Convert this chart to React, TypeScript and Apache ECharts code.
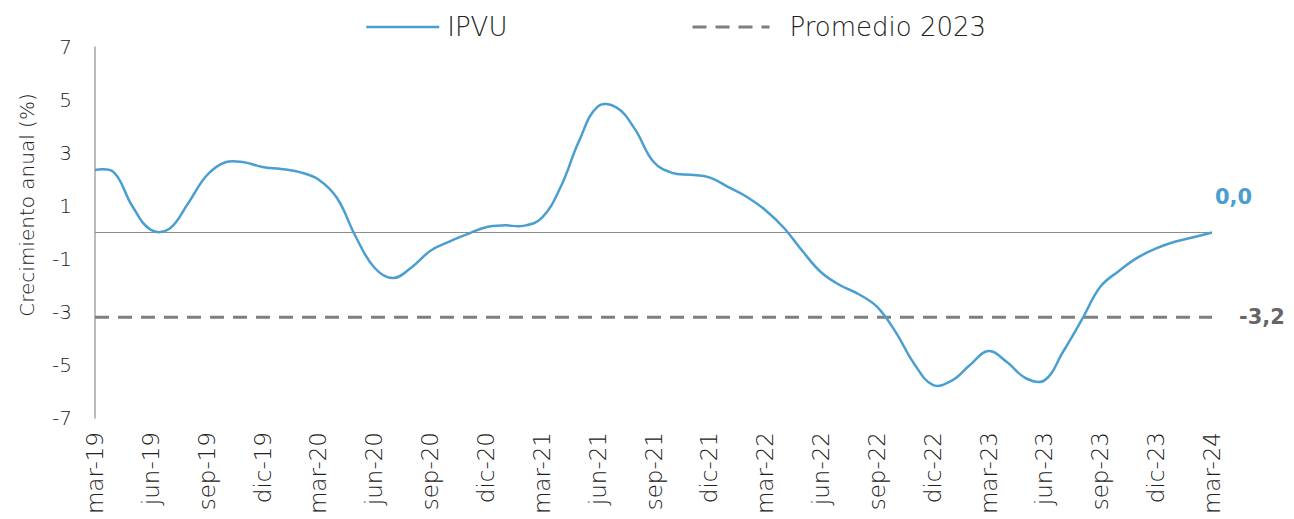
import React, { useEffect, useRef } from "react";
import * as echarts from "echarts";

const categories = [
  "mar-19","abr-19","may-19","jun-19","jul-19","ago-19","sep-19","oct-19","nov-19","dic-19","ene-20","feb-20",
  "mar-20","abr-20","may-20","jun-20","jul-20","ago-20","sep-20","oct-20","nov-20","dic-20","ene-21","feb-21",
  "mar-21","abr-21","may-21","jun-21","jul-21","ago-21","sep-21","oct-21","nov-21","dic-21","ene-22","feb-22",
  "mar-22","abr-22","may-22","jun-22","jul-22","ago-22","sep-22","oct-22","nov-22","dic-22","ene-23","feb-23",
  "mar-23","abr-23","may-23","jun-23","jul-23","ago-23","sep-23","oct-23","nov-23","dic-23","ene-24","feb-24",
  "mar-24",
];

const ipvu = [
  2.36, 2.28, 1.0, 0.1, 0.14, 1.1, 2.15, 2.65, 2.65, 2.47, 2.4, 2.28,
  2.0, 1.3, -0.15, -1.32, -1.72, -1.32, -0.7, -0.35, -0.06, 0.2, 0.27, 0.25,
  0.55, 1.7, 3.45, 4.75, 4.72, 3.9, 2.67, 2.25, 2.18, 2.08, 1.72, 1.35,
  0.85, 0.18, -0.7, -1.5, -1.98, -2.32, -2.8, -3.75, -4.95, -5.75, -5.6, -5.0,
  -4.47, -4.9, -5.5, -5.58, -4.5, -3.3, -2.05, -1.45, -0.95, -0.6, -0.35, -0.18,
  0.0,
];

const promedio2023Value = -3.2;
const promedio2023 = categories.map(() => promedio2023Value);

const yMin = -7;
const yMax = 7;

const FONT = "'DejaVu Sans', 'Liberation Sans', Arial, sans-serif";
const W = 300;
const TEXT = "#222222";
const BLUE = "#4a9fd0";
const GRAY = "#7f7f7f";

const fmt = (v: number) => v.toFixed(1).replace(".", ",");

export default function App() {
  const ref = useRef<HTMLDivElement>(null);
  useEffect(() => {
    if (!ref.current) return;
    const chart = echarts.init(ref.current, undefined, { renderer: "svg" });
    chart.setOption({
      animation: false,
      textStyle: { fontFamily: FONT },
      grid: { left: 95, right: 82, top: 47, bottom: 101, containLabel: false },
      legend: [
        {
          data: ["IPVU"],
          left: 360,
          top: 9,
          itemWidth: 73,
          itemHeight: 26,
          lineStyle: { width: 2.5, opacity: 1, color: BLUE },
          itemStyle: { opacity: 0 },
          textStyle: { fontSize: 26, color: TEXT, fontFamily: FONT, fontWeight: W, padding: [0, 0, 0, 3] },
          selectedMode: false,
        },
        {
          data: ["Promedio 2023"],
          left: 686,
          top: 9,
          itemWidth: 77,
          itemHeight: 26,
          lineStyle: { width: 3, opacity: 1 },
          itemStyle: { opacity: 0 },
          textStyle: { fontSize: 26, color: TEXT, fontFamily: FONT, fontWeight: W, padding: [0, 0, 0, 15] },
          selectedMode: false,
        },
      ],
      graphic: [
        {
          type: "text",
          x: 27,
          y: 205,
          rotation: Math.PI / 2,
          style: {
            text: "Crecimiento anual (%)",
            fontSize: 20,
            fontFamily: FONT,
            fontWeight: W,
            fill: TEXT,
            align: "center",
            verticalAlign: "middle",
          },
        },
      ],
      xAxis: {
        type: "category",
        data: categories,
        boundaryGap: false,
        axisLine: { show: false, onZero: false },
        axisTick: { show: false },
        splitLine: { show: false },
        axisLabel: {
          interval: 2,
          rotate: 90,
          fontSize: 23,
          color: TEXT,
          fontFamily: FONT,
          fontWeight: W,
          margin: 14,
        },
      },
      yAxis: {
        type: "value",
        min: yMin,
        max: yMax,
        interval: 1,
        axisLine: { show: true, lineStyle: { color: "#a6a6a6", width: 1.5 } },
        axisTick: { show: false },
        splitLine: { show: false },
        axisLabel: {
          fontSize: 20,
          color: TEXT,
          fontFamily: FONT,
          fontWeight: W,
          margin: 23,
          formatter: (v: number) => (Math.abs(v) % 2 === 1 ? String(v) : ""),
        },
      },
      series: [
        {
          name: "IPVU",
          type: "line",
          data: ipvu,
          symbol: "none",
          lineStyle: { color: BLUE, width: 0, opacity: 0 },
          itemStyle: { color: BLUE },
          silent: true,
          markLine: {
            silent: true,
            symbol: "none",
            label: { show: false },
            lineStyle: { color: "#8c8c8c", width: 1, type: "solid", opacity: 1 },
            data: [{ yAxis: 0 }],
          },
        },
        {
          name: "IPVU-curve",
          type: "custom",
          data: [[0, ipvu[0]]],
          z: 5,
          silent: true,
          renderItem: (params: any, api: any) => {
            if (params.dataIndex !== 0) return null;
            const pts = ipvu.map((v, i) => api.coord([i, v]));
            const last = pts[pts.length - 1];
            return {
              type: "group",
              children: [
                {
                  type: "polyline",
                  shape: { points: pts, smooth: 0.4 },
                  style: { stroke: BLUE, lineWidth: 2.5, fill: "none" },
                },
                {
                  type: "text",
                  x: last[0] + 3,
                  y: last[1] - 36,
                  style: {
                    text: fmt(ipvu[ipvu.length - 1]),
                    fill: BLUE,
                    fontSize: 21,
                    fontWeight: "bold",
                    fontFamily: FONT,
                    align: "left",
                    verticalAlign: "middle",
                  },
                },
              ],
            };
          },
        },
        {
          name: "Promedio 2023",
          type: "line",
          data: promedio2023,
          symbol: "none",
          lineStyle: { color: GRAY, width: 3, type: [14, 9] },
          itemStyle: { color: GRAY },
          z: 2,
          silent: true,
          endLabel: {
            show: true,
            formatter: (p: any) => fmt(p.value),
            color: "#666666",
            fontSize: 21,
            fontWeight: "bold",
            fontFamily: FONT,
            offset: [19, 0],
          },
        },
      ],
    });
    return () => chart.dispose();
  }, []);
  return (
    <div
      ref={ref}
      style={{ position: "fixed", left: 0, top: 0, width: 1294, height: 519, background: "#fff" }}
    />
  );
}
